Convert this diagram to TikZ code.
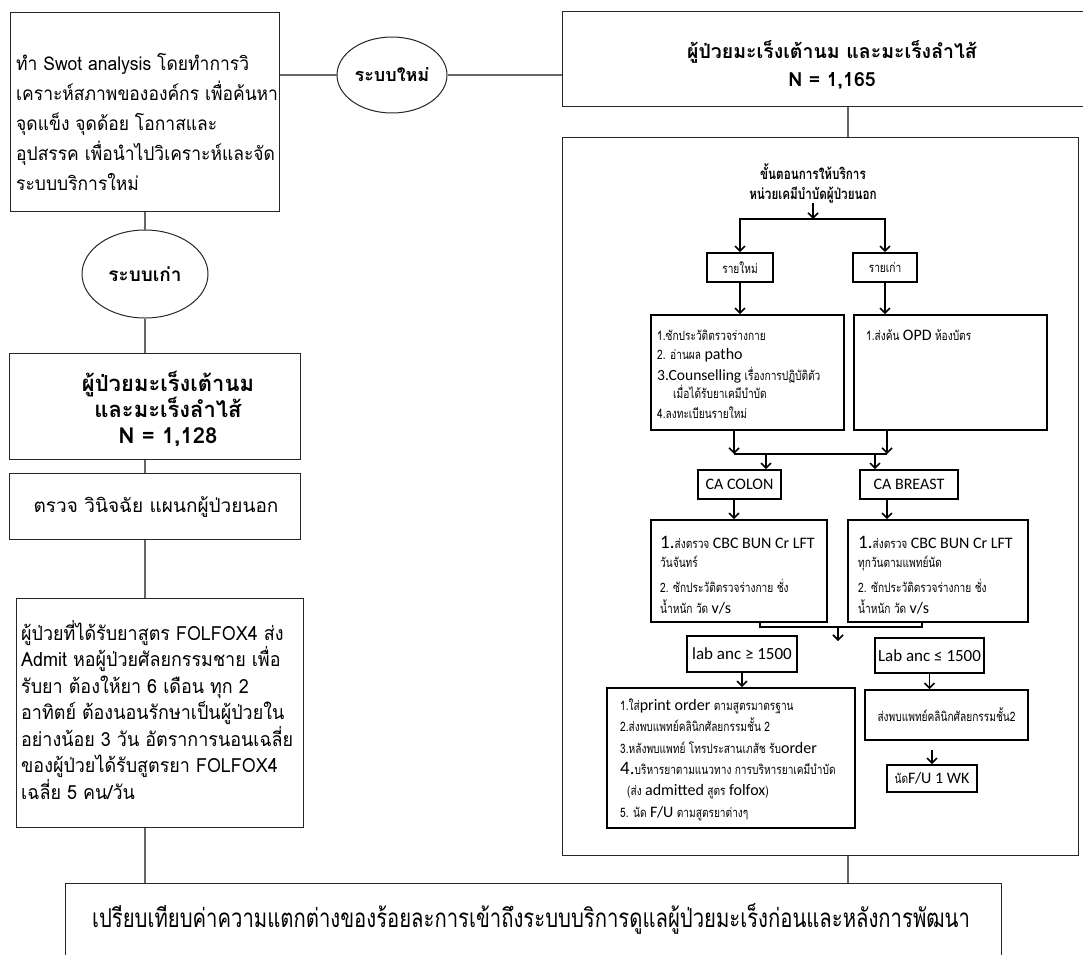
\documentclass[tikz,border=0pt]{standalone}
\usepackage{fontspec}
\setmainfont{Loma}[Script=Thai]
\newfontfamily\thm{Loma}[Script=Thai,FakeStretch=0.92]
\newfontfamily\thn{Loma}[Script=Thai,FakeStretch=0.78]
\newfontfamily\clb{Carlito}
\usetikzlibrary{shapes.geometric,arrows.meta}

% small narrow Thai and Latin runs used inside the service chart
\newcommand\thsmall{\thn\fontsize{13}{16}\selectfont}
\newcommand\latn[1]{{\clb\fontsize{16}{18}\selectfont #1}}
\newcommand\latnmid[1]{{\clb\fontsize{15.5}{18}\selectfont #1}}
\newcommand\latnbig[1]{{\clb\fontsize{19}{21}\selectfont #1}}
\newcommand\putline[3]{\node[txt] (#1) at (#2) {#3};}

\tikzset{
  frame/.style={draw=black!85, line width=1pt, inner sep=0pt},
  link/.style={draw=black!60, line width=1.2pt},
  inbox/.style={draw=black, line width=1.6pt, inner sep=0pt},
  seg/.style={draw=black, line width=1.6pt},
  arr/.style={draw=black, line width=1.6pt, -{Straight Barb[length=5pt,width=10pt]}},
  txt/.style={inner sep=0pt, anchor=base west},
}

\begin{document}
\begin{tikzpicture}[x=1pt,y=-1pt]
\fill[white] (0,0) rectangle (1083,954);
\useasboundingbox (0,0) rectangle (1083,954);

% ---------- left column: analysis and the old system ----------
\node[frame, minimum width=269pt, minimum height=199pt] (swot) at (144.5,111.5) {};
\node[inner sep=0pt, anchor=west, align=left, font=\thm\fontsize{19}{30}\selectfont] (swottext) at (16,122)
  {ทำ Swot analysis โดยทำการวิ\\เคราะห์สภาพขององค์กร เพื่อค้นหา\\จุดแข็ง จุดด้อย โอกาสและ\\อุปสรรค เพื่อนำไปวิเคราะห์และจัด\\ระบบบริการใหม่};

\node[frame, ellipse, minimum width=110pt, minimum height=76pt, font=\bfseries\fontsize{18}{20}\selectfont] (ellnew) at (392,75) {ระบบใหม่};
\node[frame, minimum width=528pt, minimum height=95pt] (topR) at (826,58.5) {};
\node[inner sep=0pt, align=center, font=\bfseries\fontsize{19.5}{28}\selectfont] (topRtext) at (832,65)
  {ผู้ป่วยมะเร็งเต้านม และมะเร็งลำไส้\\N = 1,165};
\draw[link] (swot.east |- ellnew.west) -- (ellnew.west);
\draw[link] (ellnew.east) -- (ellnew.east -| topR.west);

\node[frame, ellipse, minimum width=126pt, minimum height=88pt, font=\bfseries\fontsize{19}{20}\selectfont] (ellold) at (145,274) {ระบบเก่า};
\node[frame, minimum width=291pt, minimum height=106pt] (old1) at (154.5,406) {};
\node[inner sep=0pt, align=center, font=\bfseries\fontsize{22}{26}\selectfont] (old1text) at (168,409)
  {ผู้ป่วยมะเร็งเต้านม\\และมะเร็งลำไส้\\N = 1,128};
\node[frame, minimum width=291pt, minimum height=66pt] (old2) at (154.5,506) {};
\node[inner sep=0pt, font=\fontsize{19}{24}\selectfont] (old2text) at (156,507) {ตรวจ วินิจฉัย แผนกผู้ป่วยนอก};
\node[frame, minimum width=287pt, minimum height=229pt] (folfox) at (159.5,712.5) {};
\node[inner sep=0pt, anchor=west, align=left, font=\thm\fontsize{19.5}{26.5}\selectfont] (folfoxtext) at (21,710)
  {ผู้ป่วยที่ได้รับยาสูตร FOLFOX4 ส่ง\\Admit หอผู้ป่วยศัลยกรรมชาย เพื่อ\\รับยา ต้องให้ยา 6 เดือน ทุก 2\\อาทิตย์ ต้องนอนรักษาเป็นผู้ป่วยใน\\อย่างน้อย 3 วัน อัตราการนอนเฉลี่ย\\ของผู้ป่วยได้รับสูตรยา FOLFOX4\\เฉลี่ย 5 คน/วัน};

\node[frame, minimum width=936pt, minimum height=87pt] (bottom) at (533,926.5) {};
\node[inner sep=0pt, font=\thn\fontsize{26}{30}\selectfont] (bottomtext) at (531,919)
  {เปรียบเทียบค่าความแตกต่างของร้อยละการเข้าถึงระบบบริการดูแลผู้ป่วยมะเร็งก่อนและหลังการพัฒนา};

\draw[link] (swot.south -| ellold.north) -- (ellold.north);
\draw[link] (ellold.south) -- (ellold.south |- old1.north);
\draw[link] (old1.south -| ellold.south) -- (old2.north -| ellold.south);
\draw[link] (old2.south -| ellold.south) -- (folfox.north -| ellold.south);
\draw[link] (folfox.south -| ellold.south) -- (bottom.north -| ellold.south);

% ---------- right column: the new service ----------
\node[frame, minimum width=516pt, minimum height=718pt] (big) at (820,496) {};
\coordinate (spine) at (848,0);
\draw[link] (topR.south -| spine) -- (big.north -| spine);
\draw[link] (big.south -| spine) -- (bottom.north -| spine);

\node[inner sep=0pt, align=center, font=\thn\bfseries\fontsize{15}{20}\selectfont] (title) at (813,183)
  {ขั้นตอนการให้บริการ\\หน่วยเคมีบำบัดผู้ป่วยนอก};
\coordinate (split) at (813,219);
\draw[arr] (title.south) -- (split);

\node[inbox, minimum width=66pt, minimum height=29pt, font=\thsmall] (nnew) at (740,267.5) {รายใหม่};
\node[inbox, minimum width=64pt, minimum height=29pt, font=\thsmall] (nold) at (885,267.5) {รายเก่า};
\draw[arr] (split) -| (nnew.north);
\draw[arr] (split) -| (nold.north);

\node[inbox, minimum width=193pt, minimum height=115pt] (boxA) at (747.5,372.5) {};
\node[inbox, minimum width=193pt, minimum height=115pt] (boxB) at (950.5,372.5) {};
\draw[arr] (nnew.south) -- (nnew.south |- boxA.north);
\draw[arr] (nold.south) -- (nold.south |- boxB.north);

\putline{a1}{657,340}{\thsmall 1.ซักประวัติตรวจร่างกาย}
\putline{a2}{657,359}{\thsmall 2. อ่านผล \latn{patho}}
\putline{a3}{657,380}{\latnmid{3.Counselling} \thsmall เรื่องการปฏิบัติตัว}
\putline{a4}{673,398}{\thsmall เมื่อได้รับยาเคมีบำบัด}
\putline{a5}{657,418}{\thsmall 4.ลงทะเบียนรายใหม่}
\putline{b1}{866,340}{\thsmall 1.ส่งค้น \latn{OPD} ห้องบัตร}

\coordinate (jA) at (734,454);
\coordinate (jB) at (887,454);
\draw[arr] (boxA.south -| jA) -- (jA);
\draw[arr] (boxB.south -| jB) -- (jB);
\draw[seg] (jA) -- (jB);

\node[inbox, minimum width=83pt, minimum height=29pt, font=\clb\fontsize{16}{18}\selectfont] (colon) at (739.5,484.5) {CA COLON};
\node[inbox, minimum width=98pt, minimum height=29pt, font=\clb\fontsize{16}{18}\selectfont] (breast) at (909,484.5) {CA BREAST};
\coordinate (cIn) at (766,454);
\coordinate (bIn) at (875,454);
\draw[arr] (cIn) -- (cIn |- colon.north);
\draw[arr] (bIn) -- (bIn |- breast.north);

\node[inbox, minimum width=176pt, minimum height=102pt] (cbcA) at (739,571) {};
\node[inbox, minimum width=180pt, minimum height=102pt] (cbcB) at (938,571) {};
\draw[arr] (colon.south -| jA) -- (cbcA.north -| jA);
\draw[arr] (breast.south -| jB) -- (cbcB.north -| jB);

\putline{c1}{660,548}{\latnbig{1.}\thsmall ส่งตรวจ \latn{CBC BUN Cr LFT}}
\putline{c2}{660,567}{\thsmall วันจันทร์}
\putline{c3}{660,592}{\thsmall 2. ซักประวัติตรวจร่างกาย ชั่ง}
\putline{c4}{660,613}{\thsmall น้ำหนัก วัด \latn{v/s}}
\putline{d1}{858,548}{\latnbig{1.}\thsmall ส่งตรวจ \latn{CBC BUN Cr LFT}}
\putline{d2}{858,567}{\thsmall ทุกวันตามแพทย์นัด}
\putline{d3}{858,592}{\thsmall 2. ซักประวัติตรวจร่างกาย ชั่ง}
\putline{d4}{858,613}{\thsmall น้ำหนัก วัด \latn{v/s}}

\coordinate (kA) at (760,627);
\coordinate (kB) at (922,627);
\coordinate (kM) at (838,627);
\coordinate (kEnd) at (838,641);
\draw[seg] (cbcA.south -| kA) -- (kA) -- (kB) -- (cbcB.south -| kB);
\draw[arr] (kM) -- (kEnd);

\node[inbox, minimum width=110pt, minimum height=36pt, font=\clb\fontsize{17}{19}\selectfont] (anc1) at (742,654) {lab anc ≥ 1500};
\node[inbox, minimum width=109pt, minimum height=35pt, font=\clb\fontsize{17}{19}\selectfont] (anc2) at (929.5,655.5) {Lab anc ≤ 1500};

\node[inbox, minimum width=248pt, minimum height=140pt] (po) at (731,758) {};
\node[inbox, minimum width=163pt, minimum height=50pt, font=\thsmall] (ref) at (946.5,715) {ส่งพบแพทย์คลินิกศัลยกรรมชั้น2};
\node[inbox, minimum width=90pt, minimum height=27pt] (fu) at (932,778.5) {\thsmall นัด\latn{F/U 1 WK}};
\draw[arr] (anc1.south) -- (anc1.south |- po.north);
\draw[arr] (anc2.south) -- (anc2.south |- ref.north);
\draw[arr, shorten <=9pt] (fu.north |- ref.south) -- (fu.north);

\putline{p1}{620,710}{\thsmall 1.ใส่\latn{print order} ตามสูตรมาตรฐาน}
\putline{p2}{620,731}{\thsmall 2.ส่งพบแพทย์คลินิกศัลยกรรมชั้น 2}
\putline{p3}{620,753}{\thsmall 3.หลังพบแพทย์ โทรประสานเภสัช รับ\latn{order}}
\putline{p4}{620,774}{\latnbig{4.}\thsmall บริหารยาตามแนวทาง การบริหารยาเคมีบำบัด}
\putline{p5}{627,795}{\thsmall (ส่ง \latn{admitted} สูตร \latn{folfox})}
\putline{p6}{620,817}{\thsmall 5. นัด \latn{F/U} ตามสูตรยาต่างๆ}
\end{tikzpicture}
\end{document}
